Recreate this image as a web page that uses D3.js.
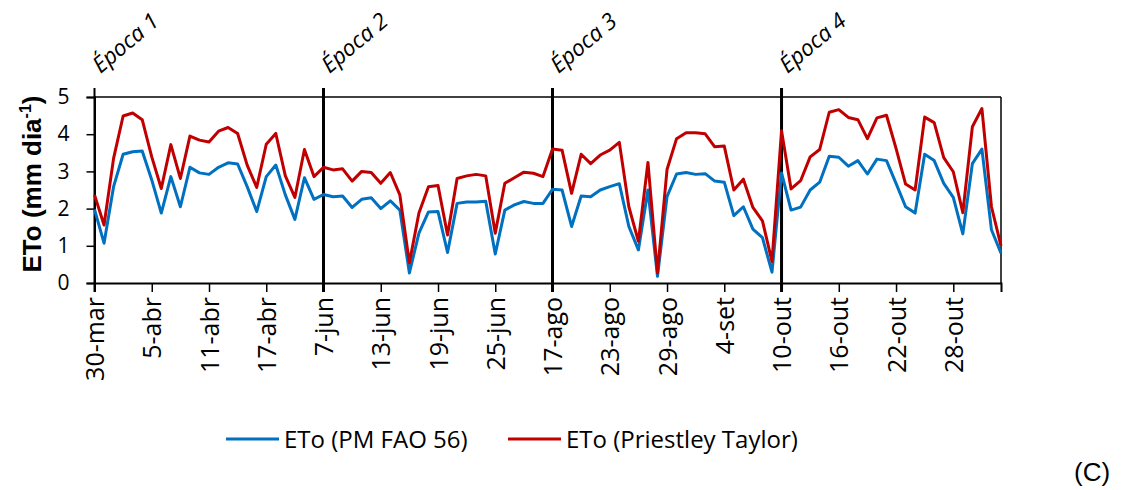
<!DOCTYPE html>
<html><head><meta charset="utf-8">
<script src="https://cdn.jsdelivr.net/npm/d3@7"></script>
<style>body{margin:0;background:#fff}svg{display:block}</style>
</head><body>
<script>
const epochs = ["Época 1","Época 2","Época 3","Época 4"];
const dates = [
 "30-mar","31-mar","1-abr","2-abr","3-abr","4-abr","5-abr","6-abr","7-abr","8-abr","9-abr","10-abr","11-abr","12-abr","13-abr","14-abr","15-abr","16-abr","17-abr","18-abr","19-abr","20-abr","21-abr","22-abr",
 "7-jun","8-jun","9-jun","10-jun","11-jun","12-jun","13-jun","14-jun","15-jun","16-jun","17-jun","18-jun","19-jun","20-jun","21-jun","22-jun","23-jun","24-jun","25-jun","26-jun","27-jun","28-jun","29-jun","30-jun",
 "17-ago","18-ago","19-ago","20-ago","21-ago","22-ago","23-ago","24-ago","25-ago","26-ago","27-ago","28-ago","29-ago","30-ago","31-ago","1-set","2-set","3-set","4-set","5-set","6-set","7-set","8-set","9-set",
 "10-out","11-out","12-out","13-out","14-out","15-out","16-out","17-out","18-out","19-out","20-out","21-out","22-out","23-out","24-out","25-out","26-out","27-out","28-out","29-out","30-out","31-out","1-nov","2-nov"
];
const pmFao56 = [
 1.98,1.07,2.59,3.46,3.53,3.55,2.77,1.88,2.86,2.05,3.11,2.96,2.92,3.11,3.23,3.20,2.59,1.92,2.86,3.17,2.37,1.71,2.83,2.25,
 2.38,2.32,2.34,2.03,2.25,2.29,2.00,2.21,1.96,0.27,1.34,1.91,1.92,0.82,2.14,2.18,2.18,2.20,0.78,1.96,2.10,2.19,2.14,2.14,
 2.52,2.50,1.52,2.34,2.32,2.50,2.59,2.67,1.52,0.89,2.50,0.18,2.32,2.93,2.97,2.92,2.94,2.74,2.71,1.81,2.05,1.45,1.22,0.29,
 2.96,1.96,2.04,2.50,2.71,3.41,3.38,3.14,3.29,2.93,3.33,3.29,2.68,2.05,1.88,3.46,3.29,2.68,2.30,1.32,3.21,3.60,1.43,0.80
];
const priestleyTaylor = [
 2.37,1.56,3.35,4.49,4.57,4.39,3.39,2.54,3.72,2.81,3.95,3.84,3.79,4.08,4.18,4.02,3.17,2.57,3.73,4.02,2.88,2.30,3.59,2.86,
 3.11,3.04,3.07,2.74,3.00,2.97,2.68,2.97,2.37,0.54,1.88,2.59,2.62,1.29,2.81,2.88,2.92,2.88,1.34,2.68,2.83,2.98,2.95,2.86,
 3.60,3.57,2.41,3.46,3.21,3.44,3.57,3.78,2.05,1.12,3.24,0.27,3.05,3.88,4.04,4.04,4.01,3.66,3.68,2.50,2.79,2.03,1.67,0.58,
 4.09,2.53,2.75,3.39,3.59,4.59,4.66,4.45,4.39,3.88,4.44,4.51,3.62,2.66,2.50,4.46,4.31,3.37,2.99,1.89,4.20,4.69,2.05,1.00
];
const yTicks = [0,1,2,3,4,5];
const epochIdx = [0,24,48,72];
const tickIdx = [0,6,12,18,24,30,36,42,48,54,60,66,72,78,84,90];
const seriesNames = ["ETo (PM FAO 56)","ETo (Priestley Taylor)"];
const colors = ["#0070C0","#C00000"];

const W=1122,H=490;
const svg = d3.select("body").append("svg").attr("width",W).attr("height",H);
const pL=94.5, pR=1001, pT=97, pB=283;
const x = d3.scaleLinear().domain([0,dates.length-1]).range([pL,pR]);
const y = d3.scaleLinear().domain([0,5]).range([pB,pT]);
const font = "'Open Sans', Calibri, sans-serif";

svg.append("line").attr("x1",pL).attr("x2",pR).attr("y1",pT).attr("y2",pT).attr("stroke","#000").attr("stroke-width",1.5);
svg.append("line").attr("x1",pR).attr("x2",pR).attr("y1",pT).attr("y2",pB).attr("stroke","#000").attr("stroke-width",1.5);

const yAxis = svg.append("g").attr("transform",`translate(${pL},0)`)
  .call(d3.axisLeft(y).tickValues(yTicks).tickSize(8).tickPadding(17).tickFormat(d3.format("d")));
yAxis.select(".domain").attr("stroke","#000").attr("stroke-width",2);
yAxis.selectAll(".tick line").attr("stroke","#000").attr("stroke-width",1.5);
yAxis.selectAll("text").attr("font-family",font).attr("font-size",21).attr("fill","#000");

const xAxis = svg.append("g").attr("transform",`translate(0,${pB})`)
  .call(d3.axisBottom(x).tickValues(tickIdx).tickSize(9).tickFormat(i=>dates[i]));
xAxis.select(".domain").attr("stroke","#000").attr("stroke-width",2);
xAxis.selectAll(".tick line").attr("stroke","#000").attr("stroke-width",1.5);
xAxis.selectAll("text").attr("font-family",font).attr("font-size",25).attr("fill","#000")
  .attr("transform","rotate(-90)").attr("text-anchor","end").attr("dy","0.36em").attr("x",-14).attr("y",0);

svg.selectAll(".ep").data(epochIdx).enter().append("line")
  .attr("x1",d=>x(d)).attr("x2",d=>x(d)).attr("y1",88).attr("y2",292)
  .attr("stroke","#000").attr("stroke-width",d=>d===0?2:3);
svg.selectAll(".eplab").data(epochIdx).enter().append("text")
  .attr("transform",(d)=>`translate(${x(d)+6},${74}) rotate(-40)`)
  .attr("font-family",font).attr("font-size",22.5).attr("font-style","italic")
  .text((d,i)=>epochs[i]);

const line = d3.line().x((d,i)=>x(i)).y(d=>y(d));
[pmFao56, priestleyTaylor].forEach((s,k)=>{
  svg.append("path").datum(s).attr("d",line).attr("fill","none")
    .attr("stroke",colors[k]).attr("stroke-width",3).attr("stroke-linejoin","round");
});

const yt = svg.append("text").attr("transform","translate(41,184) rotate(-90)")
  .attr("text-anchor","middle").attr("font-family","'Liberation Sans', Arial, sans-serif")
  .attr("font-size",26).attr("font-weight","bold");
yt.append("tspan").text("ETo (mm dia");
yt.append("tspan").attr("font-size",16).attr("dy",-10).text("-1");
yt.append("tspan").attr("dy",10).text(")");

const legX=[226,508];
seriesNames.forEach((n,k)=>{
  svg.append("line").attr("x1",legX[k]).attr("x2",legX[k]+53).attr("y1",439).attr("y2",439)
    .attr("stroke",colors[k]).attr("stroke-width",3);
  svg.append("text").attr("x",legX[k]+58).attr("y",439).attr("dy","0.36em")
    .attr("font-family",font).attr("font-size",24).text(n);
});
svg.append("text").attr("x",1074).attr("y",481).attr("font-family","'Liberation Sans', Arial, sans-serif")
  .attr("font-size",26).text("(C)");
</script>
</body></html>
